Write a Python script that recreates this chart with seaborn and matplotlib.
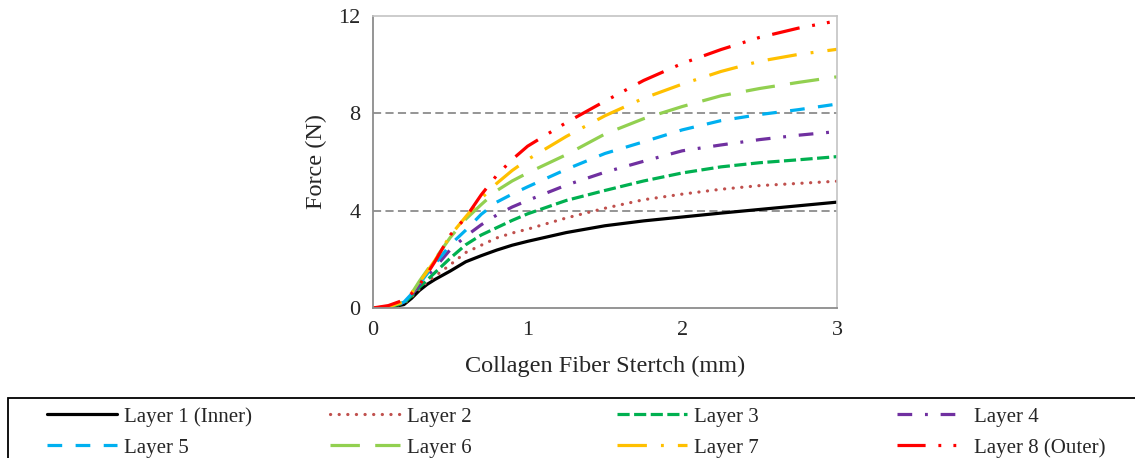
import numpy as np
import pandas as pd
import matplotlib
matplotlib.use("Agg")
import matplotlib.pyplot as plt
from matplotlib.patches import Rectangle
from matplotlib.lines import Line2D
import seaborn as sns

stretch = [0, 0.1, 0.2, 0.25, 0.3, 0.35, 0.4, 0.5, 0.6, 0.7, 0.8, 0.9, 1.0,
           1.25, 1.5, 1.75, 2.0, 2.25, 2.5, 2.75, 3.0]
layer1 = [0, 0.02, 0.14, 0.40, 0.72, 0.97, 1.17, 1.52, 1.90, 2.15, 2.38, 2.58, 2.74,
          3.10, 3.38, 3.58, 3.74, 3.90, 4.05, 4.20, 4.35]
layer2 = [0, 0.03, 0.18, 0.45, 0.78, 1.08, 1.30, 1.78, 2.28, 2.58, 2.88, 3.08, 3.24,
          3.70, 4.10, 4.45, 4.68, 4.88, 5.03, 5.12, 5.21]
layer3 = [0, 0.03, 0.20, 0.50, 0.85, 1.15, 1.45, 2.05, 2.60, 3.00, 3.30, 3.60, 3.87,
          4.42, 4.83, 5.22, 5.55, 5.80, 5.97, 6.09, 6.22]
layer4 = [0, 0.04, 0.22, 0.55, 0.95, 1.30, 1.65, 2.40, 2.95, 3.42, 3.82, 4.15, 4.42,
          5.05, 5.58, 6.03, 6.46, 6.70, 6.92, 7.10, 7.25]
layer5 = [0, 0.04, 0.24, 0.58, 1.00, 1.40, 1.80, 2.60, 3.20, 3.85, 4.35, 4.68, 4.98,
          5.70, 6.35, 6.83, 7.32, 7.70, 7.95, 8.15, 8.38]
layer6 = [0, 0.04, 0.25, 0.60, 1.10, 1.55, 2.00, 2.90, 3.65, 4.25, 4.82, 5.22, 5.55,
          6.30, 7.15, 7.78, 8.28, 8.72, 9.02, 9.27, 9.50]
layer7 = [0, 0.05, 0.27, 0.62, 1.05, 1.50, 1.95, 2.98, 3.75, 4.50, 5.12, 5.65, 6.10,
          7.05, 7.90, 8.62, 9.20, 9.72, 10.14, 10.42, 10.63]
layer8 = [0, 0.10, 0.33, 0.60, 0.95, 1.40, 1.90, 3.00, 3.72, 4.65, 5.45, 6.10, 6.65,
          7.62, 8.50, 9.35, 10.05, 10.62, 11.12, 11.50, 11.80]

layer_names = ["Layer 1 (Inner)", "Layer 2", "Layer 3", "Layer 4",
               "Layer 5", "Layer 6", "Layer 7", "Layer 8 (Outer)"]
layer_values = [layer1, layer2, layer3, layer4, layer5, layer6, layer7, layer8]
colors = ["#000000", "#C0504D", "#00B050", "#7030A0",
          "#00B0F0", "#92D050", "#FFC000", "#FF0000"]
dash_styles = ["", (0.05, 2.65), (3.8, 1.4), (4.6, 4.0, 0.9, 4.0),
               (4.6, 4.2), (9.2, 4.8), (9.2, 4.4, 0.9, 4.4),
               (8.8, 4.0, 0.9, 3.8, 0.9, 4.0)]

rows = []
for name, vals in zip(layer_names, layer_values):
    for x, y in zip(stretch, vals):
        rows.append({"Stretch": x, "Force": y, "Layer": name})
df = pd.DataFrame(rows)

sns.set_style("white")
plt.rcParams["font.family"] = ["Liberation Serif", "DejaVu Serif"]

LW = 2.3
fig = plt.figure(figsize=(11.35, 4.58), dpi=100)
ax = fig.add_axes([0.3286, 0.3275, 0.4088, 0.6376])

sns.lineplot(data=df, x="Stretch", y="Force", hue="Layer", style="Layer",
             hue_order=layer_names, style_order=layer_names,
             palette=dict(zip(layer_names, colors)),
             dashes=dict(zip(layer_names, dash_styles)),
             linewidth=LW, ax=ax, legend=False)

for i, line in enumerate(ax.lines):
    line.set_solid_joinstyle("round")
    if i == 1:
        line.set_dash_capstyle("round")

ax.set_xlim(0, 3)
ax.set_ylim(0, 12)
ax.set_xticks([0, 1, 2, 3])
ax.set_yticks([0, 4, 8, 12])
for yv in [4, 8]:
    ax.axhline(yv, color="#8c8c8c", lw=1.3, ls=(0, (4.5, 2.4)), zorder=0)

for s in ["left", "bottom"]:
    ax.spines[s].set_color("#8c8c8c")
    ax.spines[s].set_linewidth(1.3)
for s in ["top", "right"]:
    ax.spines[s].set_color("#c4c4c4")
    ax.spines[s].set_linewidth(1.2)
ax.tick_params(axis="both", which="major", direction="out", length=6,
               width=1.3, color="#8c8c8c", labelsize=16, pad=3)
ax.set_xlabel("Collagen Fiber Stertch (mm)", fontsize=17.5, labelpad=12)
ax.set_ylabel("Force (N)", fontsize=17.5, labelpad=8)

# legend: frame + four equally spaced columns (row-major order as reference)
fig.patches.append(Rectangle((8 / 1135, -0.05), 1.0, 1 - 398 / 458 + 0.05,
                             transform=fig.transFigure, fill=False,
                             edgecolor="black", linewidth=1.3))
col_x = [47, 330, 617, 897]
for c in range(4):
    idx = [c, c + 4]
    hs = []
    for i in idx:
        d = dash_styles[i]
        h = Line2D([], [], color=colors[i], lw=LW,
                   ls="-" if d == "" else (0, d))
        if i == 1:
            h.set_dash_capstyle("round")
        hs.append(h)
    fig.legend(hs, [layer_names[i] for i in idx], loc="upper left",
               bbox_to_anchor=(col_x[c] / 1135, 1 - 407 / 458),
               frameon=False, fontsize=15, handlelength=3.35,
               handletextpad=0.35, borderpad=0, borderaxespad=0,
               labelspacing=0.55)

fig.savefig("out.png", dpi=100)
